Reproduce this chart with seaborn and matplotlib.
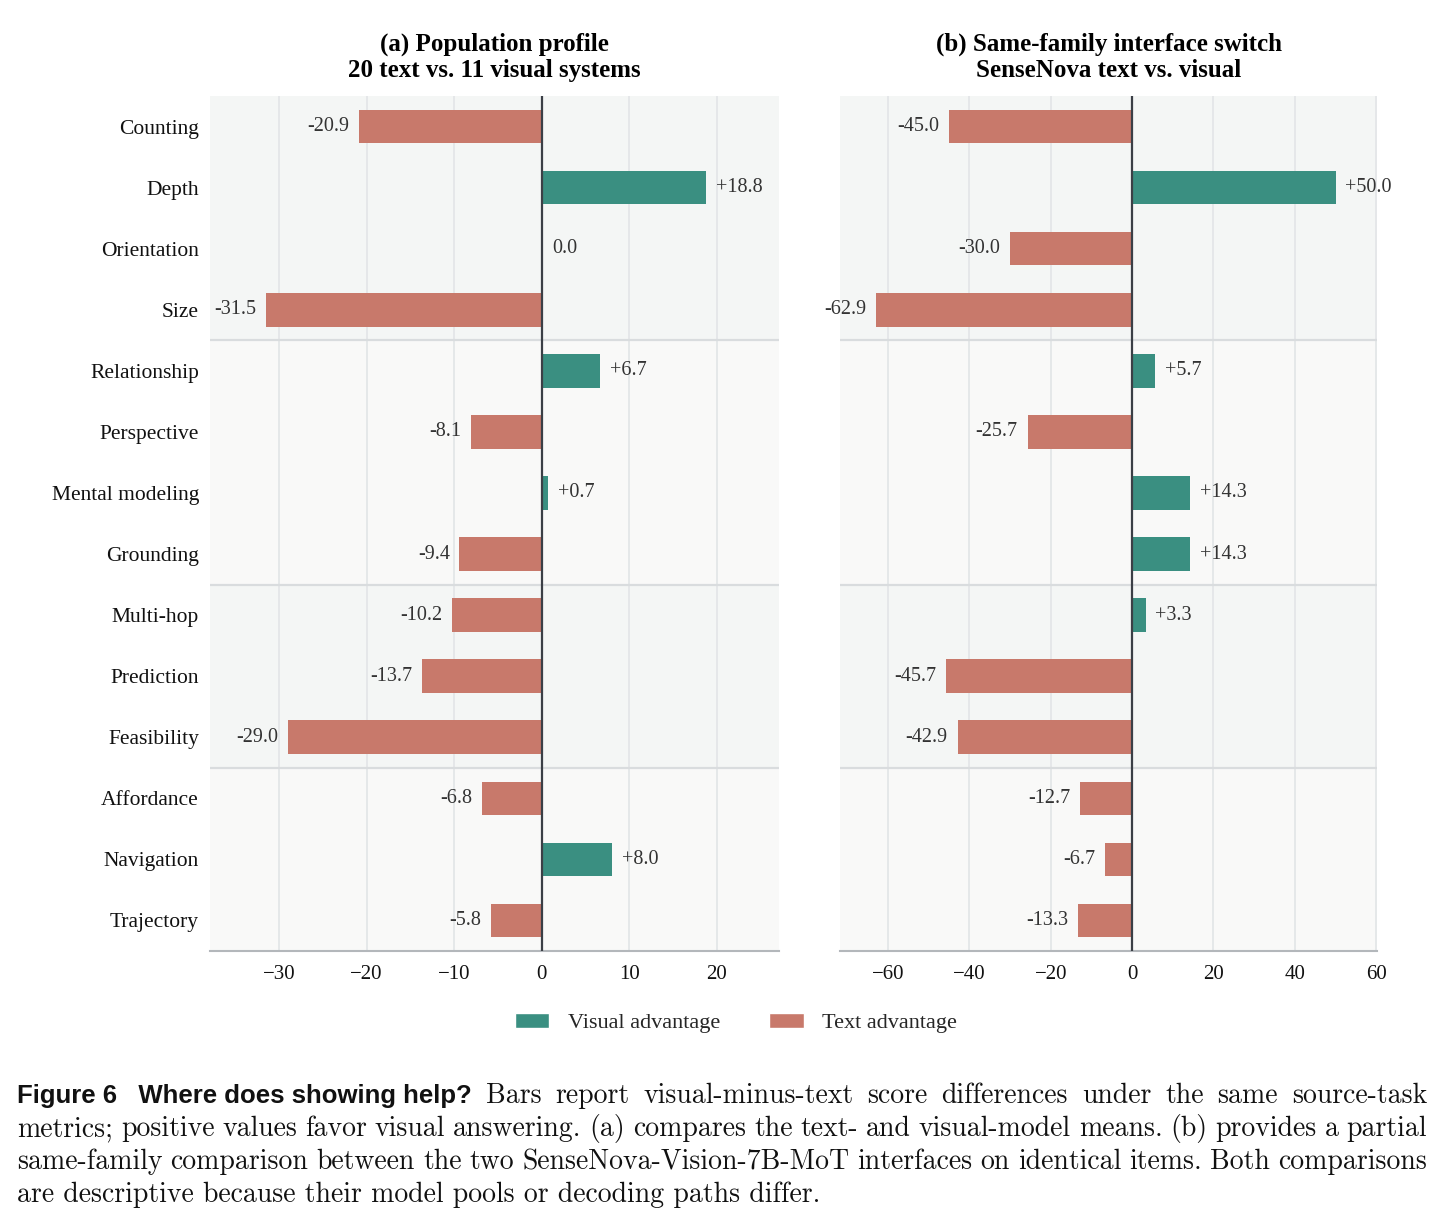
import matplotlib
matplotlib.use("Agg")
import matplotlib.pyplot as plt
import seaborn as sns
import pandas as pd
from matplotlib.patches import Patch

# data
categories = ["Counting", "Depth", "Orientation", "Size",
              "Relationship", "Perspective", "Mental modeling", "Grounding",
              "Multi-hop", "Prediction", "Feasibility",
              "Affordance", "Navigation", "Trajectory"]
pop_diff = [-20.9, 18.8, 0.0, -31.5, 6.7, -8.1, 0.7, -9.4,
            -10.2, -13.7, -29.0, -6.8, 8.0, -5.8]
sensenova_diff = [-45.0, 50.0, -30.0, -62.9, 5.7, -25.7, 14.3, 14.3,
                  3.3, -45.7, -42.9, -12.7, -6.7, -13.3]
group_breaks = [4, 8, 11]   # first category index of each new group

titles = ["(a) Population profile\n20 text vs. 11 visual systems",
          "(b) Same-family interface switch\nSenseNova text vs. visual"]
ticks_a = [-30, -20, -10, 0, 10, 20]
ticks_b = [-60, -40, -20, 0, 20, 40, 60]

caption_lines = [
    "Bars report visual-minus-text score differences under the same source-task",
    "metrics; positive values favor visual answering. (a) compares the text- and visual-model means. (b) provides a partial",
    "same-family comparison between the two SenseNova-Vision-7B-MoT interfaces on identical items. Both comparisons",
    "are descriptive because their model pools or decoding paths differ.",
]
caption_bold = "Figure 6   Where does showing help?"

TEAL = "#3a8f81"
SALMON = "#c8796b"
BAND_DARK = "#f4f6f5"
BAND_LIGHT = "#f9f9f8"

sns.set_theme(style="white")
plt.rcParams["font.family"] = ["Liberation Serif", "DejaVu Serif"]

W, H = 1443, 1224
fig = plt.figure(figsize=(W / 100, H / 100), dpi=100)
ax_a = fig.add_axes([210 / W, 1 - 951 / H, 569 / W, 855 / H])
ax_b = fig.add_axes([840 / W, 1 - 951 / H, 537 / W, 855 / H])


def sign_label(v):
    return "Visual advantage" if v >= 0 else "Text advantage"


def draw_panel(ax, values, title, ticks, xlim, show_labels):
    df = pd.DataFrame({"task": categories, "diff": values,
                       "side": [sign_label(v) for v in values]})
    sns.barplot(data=df, x="diff", y="task", hue="side",
                hue_order=["Visual advantage", "Text advantage"],
                palette=[TEAL, SALMON], saturation=1, dodge=False,
                width=0.55, linewidth=0, legend=False, ax=ax, zorder=2)
    n = len(categories)
    edges = [0] + group_breaks + [n]
    for i in range(len(edges) - 1):
        ax.axhspan(edges[i] - 0.5, edges[i + 1] - 0.5,
                   color=BAND_DARK if i % 2 == 0 else BAND_LIGHT,
                   zorder=0.2, lw=0)
    for b in group_breaks:
        ax.axhline(b - 0.5, color="#d9dcde", lw=1.6, zorder=0.6)
    ax.set_axisbelow(True)
    ax.grid(axis="x", color="#e2e5e7", lw=1.2)
    ax.grid(axis="y", visible=False)
    ax.axvline(0, color="#3b3f46", lw=1.6, zorder=3)

    for i, v in enumerate(values):
        if v > 0:
            txt, ha, off = f"+{v:.1f}", "left", 7
        elif v < 0:
            txt, ha, off = f"{v:.1f}", "right", -7
        else:
            txt, ha, off = "0.0", "left", 7.5
        ax.annotate(txt, (v, i), xytext=(off, 0), textcoords="offset points",
                    ha=ha, va="center", fontsize=14.5, color="#333333")

    ax.set_xlim(*xlim)
    ax.set_ylim(n - 0.5, -0.5)
    ax.set_xticks(ticks)
    ax.set_xlabel("")
    ax.set_ylabel("")
    for s in ["top", "right", "left"]:
        ax.spines[s].set_visible(False)
    ax.spines["bottom"].set_color("#b3b7bb")
    ax.spines["bottom"].set_linewidth(1.5)
    ax.tick_params(axis="x", length=5, width=1.2, color="#9aa0a6",
                   labelsize=15, pad=5, labelcolor="#111111")
    ax.tick_params(axis="y", length=0, labelsize=15.5, pad=8,
                   labelcolor="#111111")
    if not show_labels:
        ax.set_yticklabels([])
    ax.set_title(title, fontsize=18, fontweight="bold", pad=14,
                 linespacing=1.15, color="black")


draw_panel(ax_a, pop_diff, titles[0], ticks_a, (-37.9, 27.1), True)
draw_panel(ax_b, sensenova_diff, titles[1], ticks_b, (-71.8, 60.2), False)

handles = [Patch(facecolor=TEAL, label="Visual advantage"),
           Patch(facecolor=SALMON, label="Text advantage")]
fig.legend(handles=handles, loc="center", ncol=2, frameon=False,
           bbox_to_anchor=(736 / W, 1 - 1023 / H), fontsize=16,
           handlelength=1.55, handleheight=0.65, handletextpad=0.85,
           columnspacing=2.2)

# caption, justified line by line like the LaTeX source
renderer = fig.canvas.get_renderer()
cap_font = dict(family=["cmr10", "DejaVu Serif"], fontsize=20,
                color="#111111")
bold_font = dict(family=["Liberation Sans", "DejaVu Sans"],
                 fontweight="bold", fontsize=18.5, color="#111111")
x0, x1 = 17, 1427
baselines = [1103, 1136, 1169, 1202]


def place_line(tokens, y_px, justify=True):
    arts = [fig.text(0, 1 - y_px / H, t, ha="left", va="baseline", **kw)
            for t, kw in tokens]
    widths = [a.get_window_extent(renderer).width for a in arts]
    if justify and len(arts) > 1:
        gap = (x1 - x0 - sum(widths)) / (len(arts) - 1)
    else:
        gap = 6
    x = x0
    for a, w in zip(arts, widths):
        a.set_x(x / W)
        x += w + gap


for k, line in enumerate(caption_lines):
    tokens = [(w, cap_font) for w in line.split(" ")]
    if k == 0:
        tokens = [(caption_bold, bold_font)] + tokens
    if k == len(caption_lines) - 1:
        fig.text(x0 / W, 1 - baselines[k] / H, line, ha="left",
                 va="baseline", **cap_font)
    else:
        place_line(tokens, baselines[k])

fig.savefig("out.png", dpi=100)
